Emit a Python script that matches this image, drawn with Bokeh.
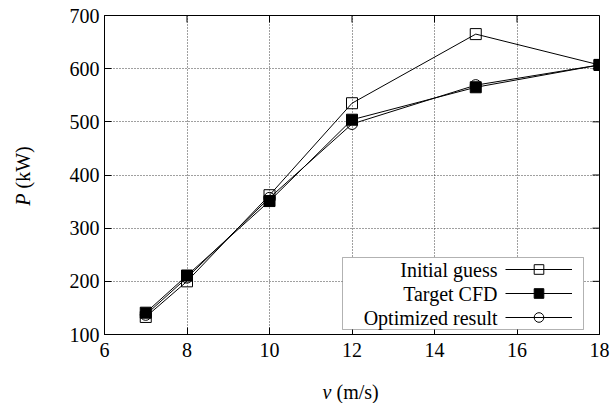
from math import pi
from bokeh.plotting import figure
from bokeh.models import (FixedTicker, Legend, LegendItem, Label,
                          BoxAnnotation, Range1d)
from bokeh.core.properties import value
from bokeh.embed import file_html
from bokeh.resources import INLINE

# ---- data ----
speed = [7, 8, 10, 12, 15, 18]
initial_guess = [133, 200, 362, 535, 665, 607]
target_cfd = [141, 211, 351, 504, 565, 607]
optimized = [137, 207, 357, 496, 569, 607]
series_labels = ["Initial guess", "Target CFD", "Optimized result"]
x_ticks = [6, 8, 10, 12, 14, 16, 18]
y_ticks = [100, 200, 300, 400, 500, 600, 700]

FONT = "Liberation Serif"
FS = "20px"
W, H = 612, 403
BL, BR, BT, BB = 104, 13, 15, 67
FW, FH = W - BL - BR, H - BT - BB
X0, X1, Y0, Y1 = 6, 18, 100, 700
TICK = 7

p = figure(width=W, height=H, output_backend="svg", toolbar_location=None,
           x_range=Range1d(X0, X1), y_range=Range1d(Y0, Y1),
           min_border_left=BL, min_border_right=BR, min_border_top=BT,
           min_border_bottom=BB)
p.background_fill_color = "white"
p.border_fill_color = "white"
p.outline_line_color = "black"
p.outline_line_width = 1

for ax, ticks in ((p.xaxis[0], x_ticks), (p.yaxis[0], y_ticks)):
    ax.ticker = FixedTicker(ticks=ticks)
    ax.major_tick_in = TICK
    ax.major_tick_out = 0
    ax.minor_tick_line_color = None
    ax.axis_line_color = "black"
    ax.major_tick_line_color = "black"
    ax.major_label_text_font = FONT
    ax.major_label_text_font_size = FS
    ax.major_label_text_color = "black"
p.xaxis.major_label_standoff = 8
p.yaxis.major_label_standoff = 5

# mirrored inward ticks on top and right edges
dy = TICK * (Y1 - Y0) / FH
dx = TICK * (X1 - X0) / FW
p.segment(x0=x_ticks, y0=[Y1] * len(x_ticks), x1=x_ticks, y1=[Y1 - dy] * len(x_ticks),
          line_color="black", line_width=1)
p.segment(x0=[X1] * len(y_ticks), y0=y_ticks, x1=[X1 - dx] * len(y_ticks), y1=y_ticks,
          line_color="black", line_width=1)

p.grid.grid_line_color = "black"
p.grid.grid_line_alpha = 0.75
p.grid.grid_line_dash = "1 2"
p.grid.grid_line_width = 1

series = [initial_guess, target_cfd, optimized]
markers = ["square", "square", "circle"]
fills = [None, "black", None]
items = []
for vals, mk, fc in zip(series, markers, fills):
    rl = p.line(speed, vals, line_color="black", line_width=1)
    rs = p.scatter(speed, vals, marker=mk, size=11, line_color="black",
                   fill_color=fc, line_width=1)
    items.append(LegendItem(label=value(""), renderers=[rl, rs]))

box = BoxAnnotation(left=238, right=479, bottom=5, top=77,
                    left_units="screen", right_units="screen",
                    top_units="screen", bottom_units="screen",
                    fill_color="white", fill_alpha=1.0,
                    line_color="black", line_width=1)
p.add_layout(box)

legend = Legend(items=items, location=(401, 5), orientation="vertical",
                glyph_width=67, glyph_height=24, label_width=0, label_height=24,
                label_standoff=0, spacing=0, padding=0, margin=0,
                border_line_alpha=0, background_fill_alpha=0,
                label_text_font_size=FS)
p.add_layout(legend)

for i, txt in enumerate(series_labels):
    p.add_layout(Label(x=393, y=65 - 24 * i, x_units="screen", y_units="screen",
                       text=txt, text_align="right", text_baseline="middle",
                       text_font=FONT, text_font_size=FS,
                       text_color="black"))

# axis titles, placed in canvas pixels inside the side panels (not clipped)
def canvas_label(txt, x, y, side, italic=False, align="left", angle=0.0):
    p.add_layout(Label(x=x, y=y, x_units="canvas", y_units="canvas", angle=angle,
                       text=txt, text_font_style="italic" if italic else "normal",
                       text_align=align, text_baseline="middle",
                       text_font=FONT, text_font_size=FS, text_color="black"), side)

canvas_label("P", 22, 193, "left", italic=True, align="right", angle=pi / 2)
canvas_label("(kW)", 22, 188, "left", align="left", angle=pi / 2)
canvas_label("v", 331, 391, "below", italic=True, align="right")
canvas_label("(m/s)", 336, 391, "below", align="left")

open("out.html", "w").write(file_html(p, INLINE))
